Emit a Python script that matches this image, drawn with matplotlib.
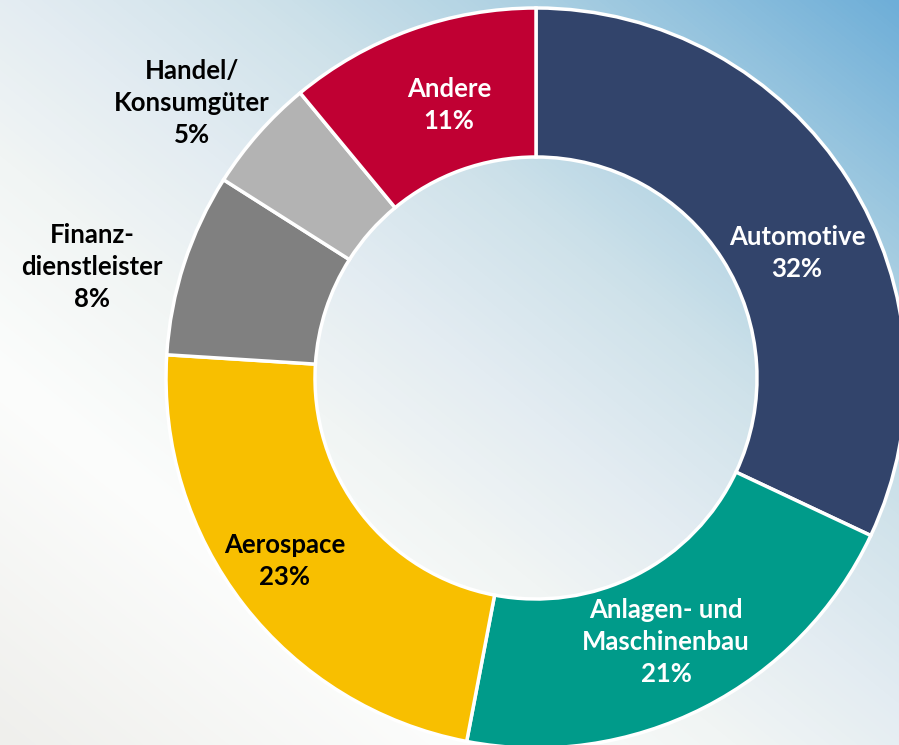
import numpy as np
import matplotlib.pyplot as plt
from matplotlib.colors import LinearSegmentedColormap

plt.rcParams['font.family'] = ['Lato', 'DejaVu Sans']

labels = ["Automotive", "Anlagen- und\nMaschinenbau", "Aerospace",
          "Finanz-\ndienstleister", "Handel/\nKonsumgüter", "Andere"]
shares = [32, 21, 23, 8, 5, 11]
colors = ["#32446b", "#009b8a", "#f8bf00", "#808080", "#b3b3b3", "#c00033"]
text_colors = ["white", "white", "black", "black", "black", "white"]

W, H = 899, 745
fig = plt.figure(figsize=(W / 100, H / 100), dpi=100)
ax = fig.add_axes([0, 0, 1, 1])

# background: diagonal gradient, white bottom-left -> light blue top-right
xx, yy = np.meshgrid(np.arange(W), np.arange(H))
t = (xx * 0.8 + yy) / (W * 0.8 + H)
bg = LinearSegmentedColormap.from_list("bg", [
    (0.0, "#efefec"), (0.25, "#fcfdfc"), (0.4, "#f1f5f4"), (0.52, "#e3ecf2"),
    (0.65, "#cfe2ea"), (0.8, "#acd0e2"), (1.0, "#6eaed8")])
ax.imshow(t, cmap=bg, extent=[0, W, 0, H], origin="lower", aspect="auto", zorder=0)

cx, cy, R = 536, H - 378, 370
wedges, _ = ax.pie(shares, colors=colors, startangle=90, counterclock=False,
                   radius=R, center=(cx, cy),
                   wedgeprops=dict(width=149, edgecolor="white", linewidth=2.5))

# label positions (pixel coords from the top-left)
label_xy = [(797, 253), (666, 642), (285, 561), (92, 267), (192, 103), (449, 105)]
for lab, s, (lx, ly), tc in zip(labels, shares, label_xy, text_colors):
    ax.text(lx, H - ly, f"{lab}\n{s}%", ha="center", va="center", color=tc,
            fontsize=18.5, fontweight="bold", linespacing=1.42, zorder=5)

ax.set_xlim(0, W)
ax.set_ylim(0, H)
ax.set_aspect("auto")
ax.axis("off")

fig.savefig("out.png", dpi=100)
